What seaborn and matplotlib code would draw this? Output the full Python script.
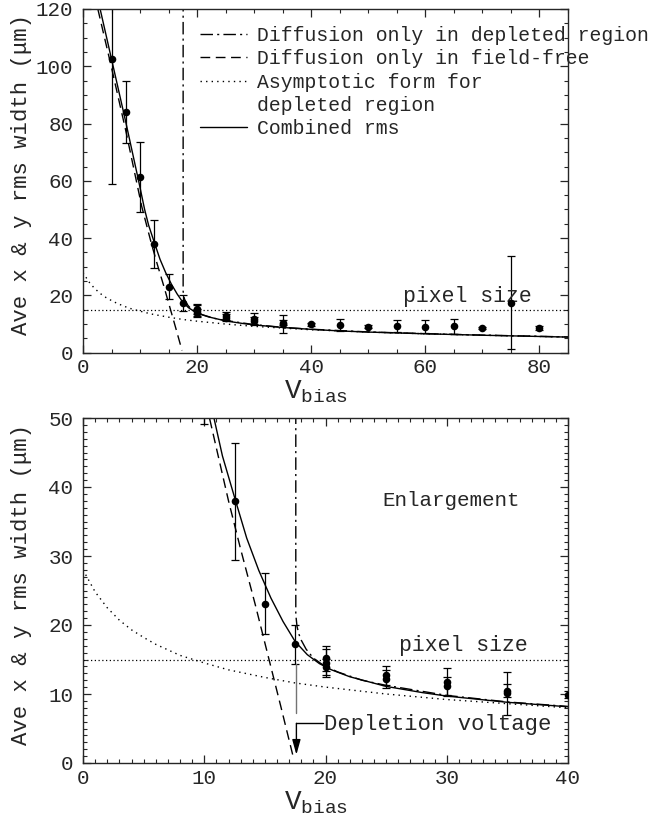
import matplotlib
matplotlib.use("Agg")
import matplotlib.pyplot as plt
import seaborn as sns
import pandas as pd
from matplotlib.ticker import MultipleLocator
from matplotlib.lines import Line2D

# ---------------- data ----------------
v_bias = [5, 7.5, 10, 12.5, 15, 17.5, 20, 20, 20, 25, 25, 30, 30, 35, 35,
          40, 45, 50, 55, 60, 65, 70, 75, 80]
rms_width = [102.4, 84.0, 61.4, 37.9, 23.1, 17.2, 15.2, 14.5, 13.9, 12.7, 12.2,
             11.8, 11.1, 10.5, 10.1, 9.9, 9.7, 9.1, 9.3, 9.1, 9.2, 8.7, 17.5, 8.5]
rms_err = [43.6, 10.8, 12.2, 8.5, 4.4, 2.8, 1.8, 2.0, 1.2, 1.4, 1.3,
           1.9, 1.4, 0.9, 3.1, 0.5, 2.0, 0.4, 2.2, 2.2, 2.6, 0.4, 16.3, 0.7]

# combined rms (solid)
comb_v = [2.5, 3, 5, 7.5, 9.8, 10.8, 11.5, 12.5, 13.5, 14.5, 15.5, 16.5, 17.5,
          18.5, 19.5, 20.5, 22, 25, 28, 30, 35, 40, 45, 50, 60, 70, 85]
comb_w = [124, 120, 102.5, 80.5, 59.5, 50, 44.5, 38.5, 32.6, 27.9, 23.9, 20.5, 17.6,
          15.7, 14.4, 13.5, 12.5, 11.1, 10.2, 9.7, 8.8, 8.15, 7.6, 7.2, 6.6, 6.1, 5.45]

# diffusion only in field-free region (dashed)
ff_v = [2.6, 5, 7.5, 10.3, 12, 13, 14.2, 15.2, 16.3, 17.35]
ff_w = [120, 99.5, 77.5, 51, 38, 31, 23, 16, 8.3, 0.8]

# asymptotic form for depleted region (dotted)
asym_v = [0, 1, 2, 3, 4, 5, 6, 8, 10, 12, 15, 17.5, 20, 25, 30, 35, 40, 50, 60, 70, 85]
asym_w = [28.0, 24.8, 22.5, 20.7, 19.3, 18.2, 17.2, 15.6, 14.5, 13.5, 12.4, 11.6,
          11.0, 10.0, 9.2, 8.6, 8.0, 7.2, 6.6, 6.1, 5.45]

# diffusion only in depleted region (dash-dot)
dep_v = [17.55, 17.55, 17.65, 17.8, 18.0, 18.4, 19.0, 19.8, 21, 23, 25, 30, 35,
         40, 50, 60, 70, 85]
dep_w = [125, 21.5, 19.8, 18.7, 17.8, 16.5, 15.2, 14.2, 13.2, 12.0, 11.25, 9.8,
         8.85, 8.2, 7.25, 6.65, 6.15, 5.5]

pixel_size = 15.0
depletion_voltage = 17.6

legend_labels = ["Diffusion only in depleted region", "Diffusion only in field-free",
                 "Asymptotic form for", "depleted region", "Combined rms"]

# ---------------- style ----------------
sns.set_style("ticks")
MONO = "Liberation Mono"
plt.rcParams["font.family"] = [MONO, "DejaVu Sans"]
plt.rcParams["mathtext.fontset"] = "custom"
plt.rcParams["mathtext.rm"] = MONO
plt.rcParams["mathtext.it"] = MONO
plt.rcParams["axes.linewidth"] = 1.0
plt.rcParams["xtick.direction"] = "in"
plt.rcParams["ytick.direction"] = "in"

FS_TICK = 15
FS_LEG = 14.2

fig = plt.figure(figsize=(6.68, 8.26), dpi=100)
ax1 = fig.add_axes([83 / 668, 1 - 352.7 / 826, (568 - 83) / 668, (352.7 - 9) / 826])
ax2 = fig.add_axes([83 / 668, 1 - 763 / 826, (568 - 83) / 668, (763 - 418) / 826])

pts = pd.DataFrame({"V": v_bias, "w": rms_width, "e": rms_err})
sty = dict(color="black", linewidth=1.0)
DASHDOT = (0, (9, 3, 1.5, 3))
DASHED = (0, (7, 4))
DOTTED = (0, (1, 3))


def draw(ax):
    sns.lineplot(x=dep_v, y=dep_w, ax=ax, sort=False, estimator=None,
                 linestyle=DASHDOT, **sty)
    sns.lineplot(x=ff_v, y=ff_w, ax=ax, sort=False, estimator=None,
                 linestyle=DASHED, **sty)
    sns.lineplot(x=asym_v, y=asym_w, ax=ax, sort=False, estimator=None,
                 linestyle=DOTTED, **sty)
    sns.lineplot(x=comb_v, y=comb_w, ax=ax, sort=False, estimator=None,
                 linestyle="-", **sty)
    ax.axhline(pixel_size, color="black", lw=0.9, linestyle=(0, (1, 2)))
    ax.errorbar(pts["V"], pts["w"], yerr=pts["e"], fmt="none", ecolor="black",
                elinewidth=0.9, capsize=3, capthick=0.9)
    sns.scatterplot(data=pts, x="V", y="w", ax=ax, color="black", s=30,
                    edgecolor="black", linewidth=0, zorder=5)
    ax.set_ylabel("Ave x & y rms width (\u03bcm)", fontsize=16)
    ax.yaxis.set_label_coords(-0.105, 0.518)
    ax.set_xlabel("V$_{\\rm bias}$", fontsize=20)
    ax.xaxis.set_label_coords(0.481, -0.076)
    ax.tick_params(which="both", top=True, right=True, labelsize=FS_TICK)
    ax.tick_params(axis="y", which="both", pad=7)
    ax.tick_params(axis="x", which="both", pad=4)
    ax.tick_params(which="major", length=5.5, width=0.9)
    ax.tick_params(which="minor", length=3.2, width=0.8)


draw(ax1)
ax1.set_xlim(0, 85)
ax1.set_ylim(0, 120)
ax1.xaxis.set_major_locator(MultipleLocator(20))
ax1.xaxis.set_minor_locator(MultipleLocator(5))
ax1.yaxis.set_major_locator(MultipleLocator(20))
ax1.yaxis.set_minor_locator(MultipleLocator(5))
ax1.text(56, 19.5, "pixel size", fontsize=15.5, va="center", ha="left")

handles = [Line2D([], [], linestyle=DASHDOT, **sty),
           Line2D([], [], linestyle=DASHED, **sty),
           Line2D([], [], linestyle=DOTTED, **sty),
           Line2D([], [], linestyle="none"),
           Line2D([], [], linestyle="-", **sty)]
leg = ax1.legend(handles, legend_labels, loc="upper left",
                 bbox_to_anchor=(200 / 668, 1 - 26 / 826),
                 bbox_transform=fig.transFigure, frameon=False, fontsize=FS_LEG,
                 borderpad=0, borderaxespad=0, handlelength=2.4,
                 handletextpad=0.5, labelspacing=0.22)

draw(ax2)
ax2.set_xlim(0, 40)
ax2.set_ylim(0, 50)
ax2.xaxis.set_major_locator(MultipleLocator(10))
ax2.xaxis.set_minor_locator(MultipleLocator(1))
ax2.yaxis.set_major_locator(MultipleLocator(10))
ax2.yaxis.set_minor_locator(MultipleLocator(1))
ax2.plot([depletion_voltage, depletion_voltage], [7.2, 14.4], color="0.45", lw=1.0)
ax2.plot([depletion_voltage, 19.8], [5.75, 5.75], color="black", lw=1.0)
ax2.annotate("", xy=(depletion_voltage, 1.2), xytext=(depletion_voltage, 5.75),
             arrowprops=dict(arrowstyle="-|>,head_length=0.9,head_width=0.25",
                             color="black", lw=1.0, shrinkA=0, shrinkB=0))
ax2.text(19.9, 5.6, "Depletion voltage", fontsize=16, va="center", ha="left")
ax2.text(26.1, 17.1, "pixel size", fontsize=15.5, va="center", ha="left")
ax2.text(24.7, 38, "Enlargement", fontsize=15, va="center", ha="left")

fig.savefig("out.png", dpi=100)
